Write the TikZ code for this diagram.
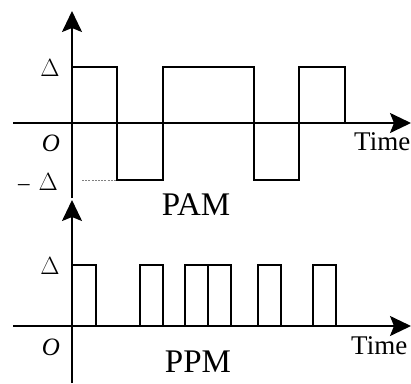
\documentclass[tikz,border=0pt]{standalone}
\usepackage{fontspec}
\setmainfont{Liberation Serif}
\usetikzlibrary{positioning,arrows.meta}
\begin{document}
\begin{tikzpicture}[x=1pt, y=-1pt,
  axis/.style={line width=2pt, -{Stealth[length=21pt, width=20pt, inset=4pt]}},
  wave/.style={line width=2.2pt, line join=miter},
  lbl/.style={inner sep=0pt, font=\fontsize{23}{23}\selectfont},
  olbl/.style={inner sep=0pt, font=\fontsize{25}{25}\selectfont\itshape},
  tlbl/.style={inner sep=0pt, anchor=west, font=\fontsize{27}{27}\selectfont},
  title/.style={inner sep=0pt, font=\fontsize{33}{33}\selectfont},
  ]
  \useasboundingbox (0,0) rectangle (411,383);

  % PAM
  \coordinate (pamy0) at (72,198);
  \coordinate (pamy1) at (72,11);
  \coordinate (pamx0) at (13,123);
  \coordinate (pamx1) at (411,123);
  \draw[axis] (pamy0) -- (pamy1);
  \draw[axis] (pamx0) -- (pamx1);
  \draw[wave] (72,123) -- (72,67) -- (117,67) -- (117,180) -- (163,180)
              -- (163,67) -- (254,67) -- (254,180) -- (299,180)
              -- (299,67) -- (345,67) -- (345,123);
  \draw[gray, line width=0.8pt, dash pattern=on 2pt off 1.2pt] (82,180) -- (117,180);

  \node[lbl] (pamd) at (50,68) {$\Delta$};
  \node[olbl] (pamo) at (51,143) {O};
  \node[lbl, anchor=east] (pammd) at (58,182) {\textendash\hspace{9pt}$\Delta$};
  \node[tlbl] (pamt) at (354,142) {Time};
  \node[title] (pam) at (196,205) {PAM};

  % PPM
  \coordinate (ppmy0) at (72,383);
  \coordinate (ppmy1) at (72,200);
  \coordinate (ppmx0) at (13,326);
  \coordinate (ppmx1) at (411,326);
  \draw[axis] (ppmy0) -- (ppmy1);
  \draw[axis] (ppmx0) -- (ppmx1);
  \foreach \a/\b in {72/96, 140/163, 185/208, 208/231, 258/281, 313/336}
    \draw[wave] (\a,326) -- (\a,265) -- (\b,265) -- (\b,326);

  \node[lbl] (ppmd) at (50,266) {$\Delta$};
  \node[olbl] (ppmo) at (51,347) {O};
  \node[tlbl] (ppmt) at (351,346) {Time};
  \node[title] (ppm) at (198,362) {PPM};
\end{tikzpicture}
\end{document}
